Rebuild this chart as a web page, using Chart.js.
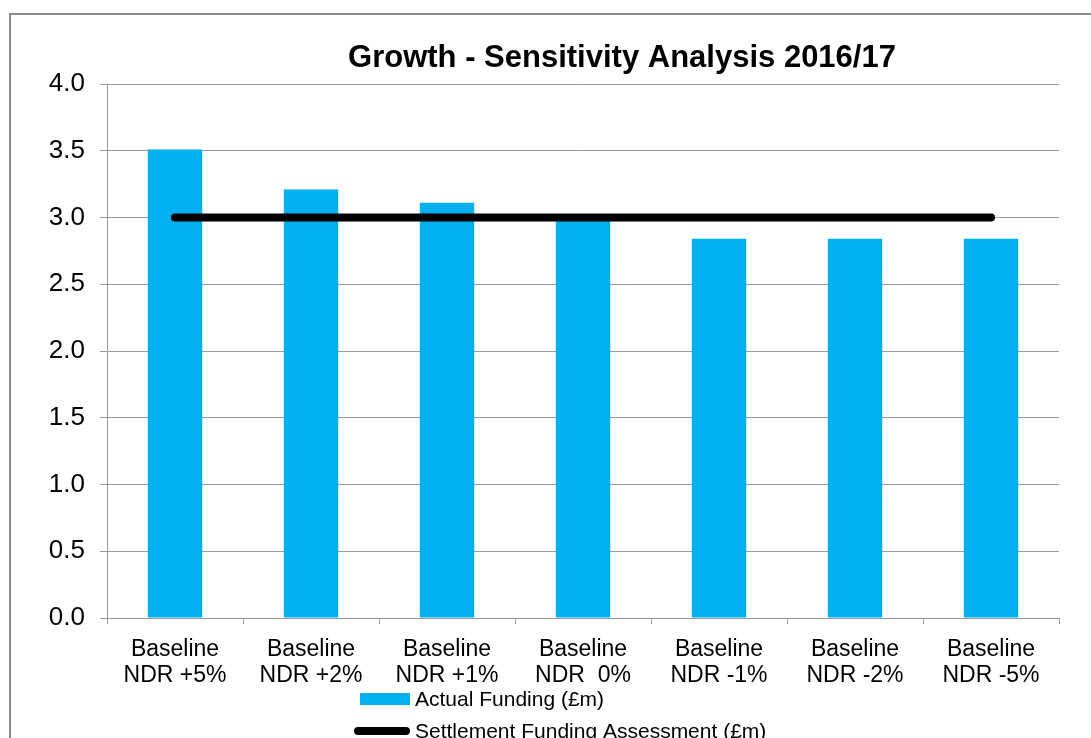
<!DOCTYPE html>
<html>
<head>
<meta charset="utf-8">
<title>Growth - Sensitivity Analysis 2016/17</title>
<script src="https://cdn.jsdelivr.net/npm/chart.js@4"></script>
<style>
  html, body { margin: 0; padding: 0; background: #fff; overflow: hidden; }
  #frame {
    position: absolute; left: 9px; top: 13px;
    width: 1300px; height: 800px;
    border: 2px solid #8c8c8c; box-sizing: border-box;
  }
  #wrap { position: absolute; left: 0; top: 0; width: 1222px; height: 760px; }
</style>
</head>
<body>
<div id="frame">
  <div id="wrap"><canvas id="growthChart"></canvas></div>
</div>
<script>
// Scenarios and funding (£m)
const scenarios = [
    ["Baseline", "NDR +5%"],
    ["Baseline", "NDR +2%"],
    ["Baseline", "NDR +1%"],
    ["Baseline", "NDR  0%"],
    ["Baseline", "NDR -1%"],
    ["Baseline", "NDR -2%"],
    ["Baseline", "NDR -5%"]
];
const actualFunding = [3.51, 3.21, 3.11, 2.98, 2.84, 2.84, 2.84];
const settlementFunding = [3.0, 3.0, 3.0, 3.0, 3.0, 3.0, 3.0];
const chartTitle = "Growth - Sensitivity Analysis 2016/17";

const FONT = "'Liberation Sans', Arial, sans-serif";
const GRID = "#9a9a9a";

// title centred on the whole chart box (plot area sits left of centre)
const boxTitle = {
    id: "boxTitle",
    afterDraw(chart) {
        const ctx = chart.ctx;
        ctx.save();
        ctx.font = "bold 31px " + FONT;
        ctx.fillStyle = "#000";
        ctx.textAlign = "center";
        ctx.textBaseline = "alphabetic";
        ctx.fillText(chartTitle, chart.width / 2, 52);
        ctx.restore();
    }
};

// legend stacked under the axis labels
const stackedLegend = {
    id: "stackedLegend",
    afterDraw(chart) {
        const ctx = chart.ctx;
        const base = chart.chartArea.bottom;
        const x0 = 343;
        ctx.save();
        ctx.font = "21px " + FONT;
        ctx.textBaseline = "middle";
        chart.data.datasets.forEach((ds, i) => {
            const y = base + 81 + i * 32;
            if (ds.type === "line") {
                ctx.strokeStyle = ds.borderColor;
                ctx.lineWidth = 8;
                ctx.lineCap = "round";
                ctx.beginPath();
                ctx.moveTo(x0 + 4, y);
                ctx.lineTo(x0 + 52, y);
                ctx.stroke();
            } else {
                ctx.fillStyle = ds.backgroundColor;
                ctx.fillRect(x0 + 6, y - 6, 50, 12);
            }
            ctx.fillStyle = "#000";
            ctx.fillText(ds.label, x0 + 61, y + 1);
        });
        ctx.restore();
    }
};

new Chart(document.getElementById("growthChart"), {
    type: "bar",
    data: {
        labels: scenarios,
        datasets: [
            {
                label: "Actual Funding (£m)",
                data: actualFunding,
                backgroundColor: "#00b0f0",
                barPercentage: 0.4,
                categoryPercentage: 1.0,
                order: 2
            },
            {
                type: "line",
                label: "Settlement Funding Assessment (£m)",
                data: settlementFunding,
                borderColor: "#000",
                borderWidth: 8,
                borderCapStyle: "round",
                pointRadius: 0,
                fill: false,
                tension: 0,
                order: 1
            }
        ]
    },
    options: {
        responsive: true,
        maintainAspectRatio: false,
        animation: false,
        layout: { padding: { left: 0, right: 174, top: 69, bottom: 0 } },
        plugins: {
            legend: { display: false },
            tooltip: { enabled: false },
            title: { display: false }
        },
        scales: {
            x: {
                afterFit: (s) => { s.height = 157; },
                grid: {
                    display: true,
                    drawOnChartArea: false,
                    tickLength: 6,
                    color: GRID
                },
                border: { color: GRID, width: 1 },
                ticks: {
                    color: "#000",
                    padding: 13,
                    maxRotation: 0,
                    font: { family: FONT, size: 23, lineHeight: 1.13 }
                }
            },
            y: {
                min: 0,
                max: 4,
                afterFit: (s) => { s.width = 96; },
                grid: { color: GRID, tickLength: 7 },
                border: { color: GRID, width: 1 },
                ticks: {
                    stepSize: 0.5,
                    color: "#000",
                    padding: 15,
                    font: { family: FONT, size: 26 },
                    callback: (v) => v.toFixed(1)
                }
            }
        }
    },
    plugins: [boxTitle, stackedLegend]
});
</script>
</body>
</html>
